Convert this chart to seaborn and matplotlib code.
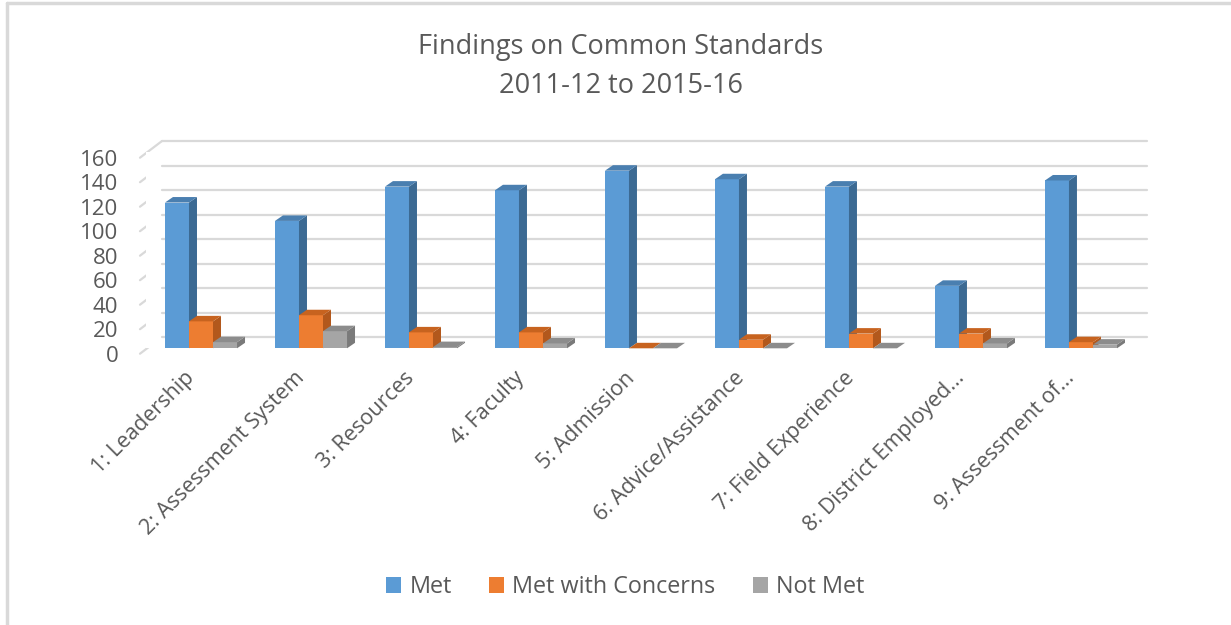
import matplotlib
matplotlib.use("Agg")
import matplotlib.pyplot as plt
from matplotlib.patches import Polygon, Patch
from matplotlib.transforms import ScaledTranslation, IdentityTransform
from matplotlib.lines import Line2D
import pandas as pd
import seaborn as sns

# data
standards = ["1: Leadership", "2: Assessment System", "3: Resources", "4: Faculty",
             "5: Admission", "6: Advice/Assistance", "7: Field Experience",
             "8: District Employed...", "9: Assessment of..."]
met = [119, 104, 132, 129, 145, 138, 132, 51, 137]
met_concerns = [22, 27, 13, 13, 0, 7, 12, 12, 5]
not_met = [5, 14, 1, 4, 0, 0, 0, 4, 3]
series = ["Met", "Met with Concerns", "Not Met"]
yticks = [0, 20, 40, 60, 80, 100, 120, 140, 160]

colors = ["#5B9BD5", "#ED7D31", "#A5A5A5"]
side_colors = ["#3C6A93", "#B2581C", "#7A7A7A"]
top_colors = ["#4A7FB0", "#C7631F", "#8C8C8C"]
text_col = "#595959"

df = pd.DataFrame({
    "standard": standards * 3,
    "series": [s for s in series for _ in standards],
    "value": met + met_concerns + not_met,
})

sns.set_style("white")
plt.rcParams["font.family"] = ["Open Sans", "DejaVu Sans"]

fig = plt.figure(figsize=(12.31, 6.25), dpi=100)
ax = fig.add_axes([0.1186, 0.4427, 0.8042, 0.3136])

sns.barplot(data=df, x="standard", y="value", hue="series", hue_order=series,
            palette=colors, width=0.655, gap=0, legend=False, ax=ax,
            saturation=1, linewidth=0)

ax.set_xlim(-0.5, len(standards) - 0.5)
ax.set_ylim(0, 160)
ax.set_xlabel("")
ax.set_ylabel("")
for sp in ax.spines.values():
    sp.set_visible(False)

# pixel -> data conversions
px_x = ax.bbox.width / len(standards)
px_y = ax.bbox.height / 160.0
ddx = 8 / px_x
ddy = 5.5 / px_y

# perspective gridlines (back wall + left diagonal)
back_up = 11.3 / 100.0
front_dn = -5.4 / 100.0
back_tr = ax.transData + ScaledTranslation(0, back_up, fig.dpi_scale_trans)
front_tr = ax.transData + ScaledTranslation(0, front_dn, fig.dpi_scale_trans)
x_back_l = -0.5 + 16 / px_x
x_back_r = len(standards) - 0.5 + 11 / px_x
x_front_l = -0.5 - 6 / px_x
for v in yticks:
    ax.add_line(Line2D([x_back_l, x_back_r], [v, v], transform=back_tr,
                       color="#d9d9d9", lw=1.6, zorder=0, clip_on=False))
    # diagonal: front-left to back-left
    p_front = front_tr.transform((x_front_l, v))
    p_back = back_tr.transform((x_back_l, v))
    fig.add_artist(Line2D([p_front[0], p_back[0]], [p_front[1], p_back[1]],
                          transform=IdentityTransform(), color="#d9d9d9",
                          lw=1.6, zorder=0))

# pseudo 3D faces on each bar
bars = list(ax.patches)
n = len(standards)
for i, b in enumerate(bars):
    k = i // n
    z = 2 + k * 0.1
    b.set_zorder(z)
    x0, w, h = b.get_x(), b.get_width(), b.get_height()
    x1 = x0 + w
    side = Polygon([(x1, 0), (x1 + ddx, ddy), (x1 + ddx, h + ddy), (x1, h)],
                   closed=True, facecolor=side_colors[k], edgecolor="none",
                   zorder=z, clip_on=False)
    top = Polygon([(x0, h), (x0 + ddx, h + ddy), (x1 + ddx, h + ddy), (x1, h)],
                  closed=True, facecolor=top_colors[k], edgecolor="none",
                  zorder=z, clip_on=False)
    ax.add_patch(side)
    ax.add_patch(top)

ax.set_yticks(yticks)
ax.set_yticklabels([str(v) for v in yticks])
ax.tick_params(axis="y", length=0, pad=20, labelsize=16, labelcolor=text_col)
ax.tick_params(axis="x", length=0, pad=14, labelsize=15.5, labelcolor=text_col)
for lab in ax.get_yticklabels():
    lab.set_transform(lab.get_transform() + ScaledTranslation(0, front_dn, fig.dpi_scale_trans))
ax.set_xticks(range(n))
ax.set_xticklabels(standards, rotation=45, ha="right", rotation_mode="anchor")
for lab in ax.get_xticklabels():
    lab.set_transform(lab.get_transform() + ScaledTranslation(-0.17, 0, fig.dpi_scale_trans))

fig.text(0.5045, 0.925, "Findings on Common Standards", ha="center", va="center",
         fontsize=19.5, color=text_col)
fig.text(0.5045, 0.862, "2011-12 to 2015-16", ha="center", va="center",
         fontsize=19.5, color=text_col)

handles = [Patch(facecolor=c, edgecolor="none") for c in colors]
fig.legend(handles, series, loc="center", bbox_to_anchor=(0.508, 1 - 587 / 625),
           ncol=3, frameon=False, fontsize=16.8, labelcolor=text_col,
           handlelength=0.65, handleheight=0.65, handletextpad=0.35, columnspacing=1.6)

# frame lines at top and left like the screenshot
fig.add_artist(Line2D([0.006, 1.0], [0.995, 0.995], color="#d9d9d9", lw=2.5))
fig.add_artist(Line2D([0.006, 0.006], [0.0, 0.995], color="#d9d9d9", lw=2.5))

plt.savefig("out.png", dpi=100)
